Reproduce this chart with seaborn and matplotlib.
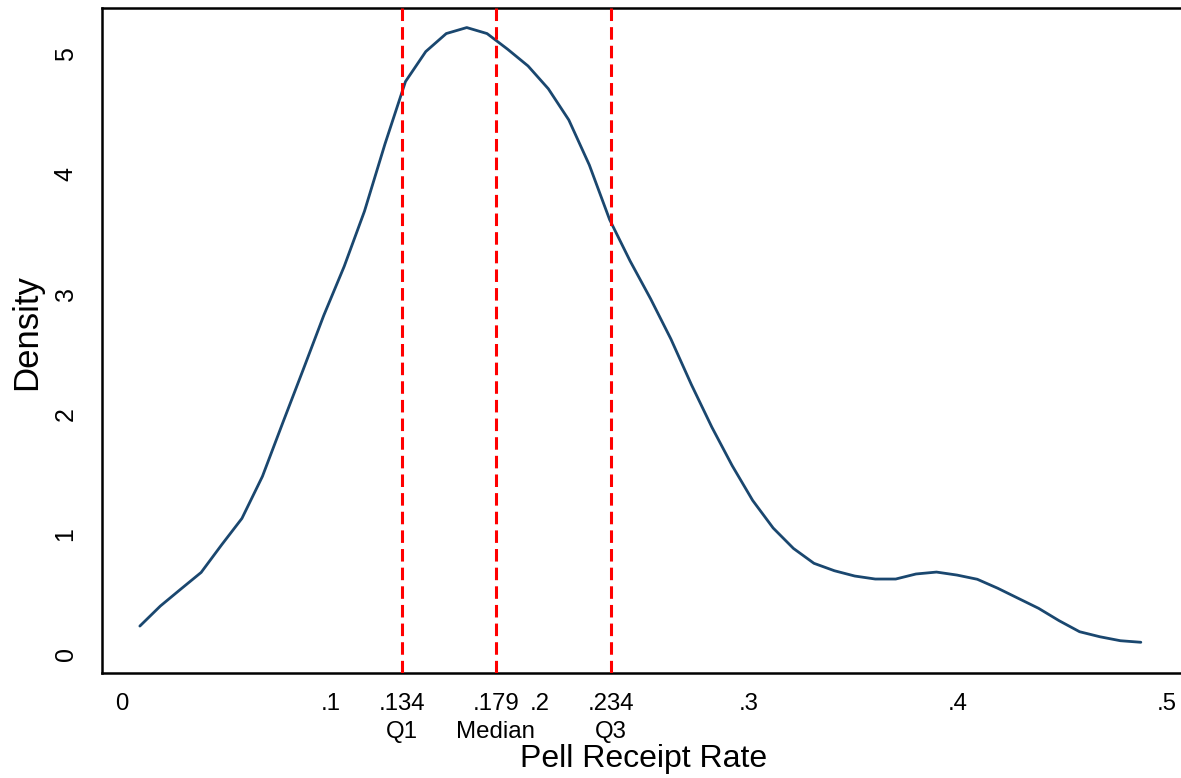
import matplotlib
matplotlib.use("Agg")
import matplotlib.pyplot as plt
import matplotlib.transforms as mtransforms
import seaborn as sns
import pandas as pd

# ---- data ----
pell_rate = [0.0088, 0.0186, 0.0283, 0.0381, 0.0479, 0.0576, 0.0674, 0.0772, 0.0869, 0.0967,
             0.1065, 0.1162, 0.1260, 0.1358, 0.1455, 0.1553, 0.1651, 0.1748, 0.1846, 0.1944,
             0.2041, 0.2139, 0.2237, 0.2334, 0.2432, 0.2530, 0.2627, 0.2725, 0.2823, 0.2920,
             0.3018, 0.3116, 0.3213, 0.3311, 0.3409, 0.3506, 0.3604, 0.3702, 0.3799, 0.3897,
             0.3995, 0.4092, 0.4190, 0.4288, 0.4385, 0.4483, 0.4581, 0.4678, 0.4776, 0.4874]
density = [0.233, 0.40, 0.54, 0.68, 0.91, 1.13, 1.48, 1.93, 2.37, 2.82,
           3.23, 3.69, 4.25, 4.77, 5.02, 5.17, 5.22, 5.17, 5.04, 4.90,
           4.71, 4.45, 4.075, 3.62, 3.275, 2.96, 2.625, 2.245, 1.89, 1.57,
           1.28, 1.05, 0.88, 0.756, 0.694, 0.65, 0.625, 0.625, 0.667, 0.683,
           0.658, 0.623, 0.548, 0.464, 0.381, 0.278, 0.186, 0.144, 0.111, 0.098]

quartile_values = [0.134, 0.179, 0.234]
quartile_tick_labels = [".134", ".179", ".234"]
quartile_names = ["Q1", "Median", "Q3"]

x_ticks = [0, 0.1, 0.2, 0.3, 0.4, 0.5]
x_tick_labels = ["0", ".1", ".2", ".3", ".4", ".5"]
y_ticks = [0, 1, 2, 3, 4, 5]
y_tick_labels = ["0", "1", "2", "3", "4", "5"]

x_title = "Pell Receipt Rate"
y_title = "Density"

# ---- styling ----
sns.set_theme(style="white")
plt.rcParams["font.family"] = ["Liberation Sans", "DejaVu Sans"]

W, H = 1181, 778
fig = plt.figure(figsize=(W / 100, H / 100), dpi=100)
left, right, top, bottom = 102, 1181, 8, 673
ax = fig.add_axes([left / W, (H - bottom) / H, (right - left) / W, (bottom - top) / H])

df = pd.DataFrame({"x": pell_rate, "y": density})
sns.lineplot(data=df, x="x", y="y", ax=ax, color="#1a476f", linewidth=2.0, sort=False)

for q in quartile_values:
    ax.axvline(q, ymin=1, ymax=0, color="#ff0000", linewidth=2.2,
               linestyle=(0, (4.1, 2.0)), zorder=3)

ax.set_xlim(-0.0093, 0.5066)
ax.set_ylim(-0.158, 5.383)

# ticks
all_ticks = x_ticks + quartile_values
all_labels = x_tick_labels + quartile_tick_labels
order = sorted(range(len(all_ticks)), key=lambda i: all_ticks[i])
ax.set_xticks([all_ticks[i] for i in order])
ax.set_xticklabels([all_labels[i] for i in order])
ax.set_yticks(y_ticks)
ax.set_yticklabels(y_tick_labels)

ax.tick_params(axis="both", which="major", direction="out", length=8.6, width=1.4,
               colors="black")
ax.tick_params(axis="x", pad=5.5, labelsize=17.3)
ax.tick_params(axis="y", pad=9, labelrotation=90, labelsize=18)
for lab in ax.get_yticklabels():
    lab.set_va("center")

# second line of quartile tick labels
trans = mtransforms.blended_transform_factory(ax.transData, ax.transAxes)
for q, name in zip(quartile_values, quartile_names):
    ax.text(q, -0.0975, name, transform=trans, ha="center", va="baseline",
            fontsize=17.3, color="black", clip_on=False)

for side in ["left", "bottom", "top"]:
    ax.spines[side].set_visible(True)
    ax.spines[side].set_color("black")
    ax.spines[side].set_linewidth(1.8)
ax.spines["right"].set_visible(False)

ax.set_xlabel(x_title, fontsize=23, color="black")
ax.set_ylabel(y_title, fontsize=25, color="black")
ax.xaxis.set_label_coords(0.502, -0.107)
ax.yaxis.set_label_coords(-0.055, 0.512)

ax.grid(False)
fig.savefig("out.png", dpi=100, facecolor="white")
